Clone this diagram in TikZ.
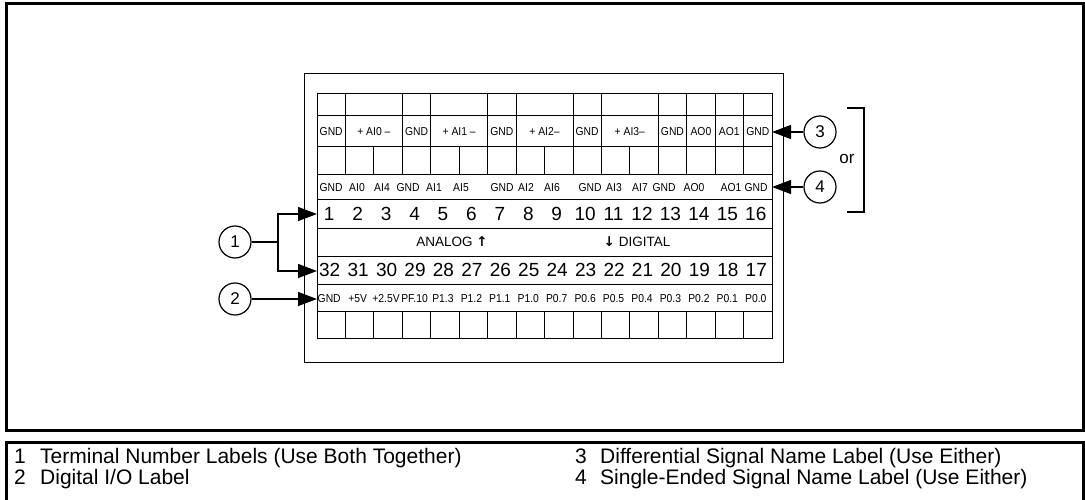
\documentclass[tikz,border=0pt]{standalone}
\usepackage{fontspec}
\setmainfont{Liberation Sans}
\newfontfamily\narrowfont[FakeStretch=0.9]{Liberation Sans}
\newfontfamily\arrowfont{DejaVu Sans}
\usetikzlibrary{arrows.meta}

\tikzset{
  callout/.style={draw, circle, line width=1.2pt, minimum size=32pt, inner sep=0pt,
    font=\fontsize{17}{17}\selectfont},
  pointer/.style={line width=1.2pt, -{Triangle[length=19pt,width=14pt]}},
  small/.style={inner sep=0pt, text height=8.2pt, text depth=0pt,
    font=\narrowfont\fontsize{11.5}{11.5}\selectfont},
  big/.style={inner sep=0pt, text height=13.6pt, text depth=0pt,
    font=\fontsize{19}{19}\selectfont},
  legend/.style={anchor=base west, inner sep=0pt, font=\fontsize{21}{21}\selectfont},
}

\begin{document}
\begin{tikzpicture}[x=1pt,y=-1pt]
\useasboundingbox (0,0) rectangle (1085,500);
\draw[line width=3pt] (6,4) rectangle (1083,430);
\draw[line width=3pt] (6,503) -- (6,442) -- (1083,442) -- (1083,503);
\draw[line width=0.9pt] (304,73) rectangle (783,362);

% label strip
\def\w{28.4375}
\begin{scope}[line width=0.8pt]
  \draw (317,93) rectangle (772,338);
  \foreach \y in {115,146,174,199,228,256,284,311} \draw (317,\y) -- (772,\y);
  \foreach \k in {1,3,4,6,7,9,10,12,13,14,15} \draw (317+\k*\w,93) -- (317+\k*\w,146);
  \foreach \k in {1,...,15} {
    \draw (317+\k*\w,146) -- (317+\k*\w,174);
    \draw (317+\k*\w,311) -- (317+\k*\w,338);
  }
\end{scope}

% differential names
\foreach \c in {1,4,7,10,13,16} \node[small] (dg\c) at (317+\c*\w-\w/2,131) {GND};
\foreach \c/\t in {2/+ AI0 –, 5/+ AI1 –, 8/+ AI2–, 11/+ AI3–}
  \node[small] (da\c) at (317+\c*\w,131) {\t};
\node[small] (dao0) at (317+13.5*\w,131) {AO0};
\node[small] (dao1) at (317+14.5*\w,131) {AO1};

% single-ended names
\foreach \x/\t [count=\i] in {331/GND,357/AI0,382/AI4,408/GND,434/AI1,461/AI5,502/GND,526/AI2,
  552/AI6,590/GND,614/AI3,640/AI7,664/GND,694/AO0,731/AO1,756/GND}
  \node[small] (se\i) at (\x,187) {\t};

% terminal numbers
\foreach \n in {1,...,16} \node[big] (tn\n) at (317+\n*\w-\w/2-2,214) {\n};
\foreach \n in {17,...,32} \node[big] (tn\n) at (317+33*\w-\n*\w-\w/2-1.5,270) {\n};
\node[inner sep=0pt, font=\fontsize{13.5}{13.5}\selectfont] (analog) at (452,242)
  {ANALOG {\arrowfont\bfseries ↑}};
\node[inner sep=0pt, font=\fontsize{13.5}{13.5}\selectfont] (digital) at (637,242)
  {{\arrowfont\bfseries ↓} DIGITAL};

% digital I/O
\foreach \t [count=\i] in {GND,+5V,+2.5V,PF.10,P1.3,P1.2,P1.1,P1.0,P0.7,P0.6,P0.5,P0.4,P0.3,P0.2,P0.1,P0.0}
  \node[small] (io\i) at (317+\i*\w-\w/2-2,298) {\t};

% callouts
\node[callout] (c1) at (235,242) {1};
\node[callout] (c2) at (235,299) {2};
\node[callout] (c3) at (820,132) {3};
\node[callout] (c4) at (820,187) {4};
\coordinate (j1) at (278,242);
\coordinate (a1) at (317,214);
\coordinate (a32) at (317,271);
\coordinate (a2) at (317,299);
\coordinate (a3) at (772,132);
\coordinate (a4) at (772,187);
\draw[line width=1.2pt] (c1) -- (j1);
\draw[pointer] (j1) |- (a1);
\draw[pointer] (j1) |- (a32);
\draw[pointer] (c2) -- (a2);
\draw[pointer] (c3) -- (a3);
\draw[pointer] (c4) -- (a4);
\draw[line width=1.2pt] (847,108) -| (864,212) -- (847,212);
\node[inner sep=0pt, font=\fontsize{17}{17}\selectfont] (or) at (847,159) {or};

% legend
\node[legend] (k1) at (14,463) {1};
\node[legend] (l1) at (40,463) {Terminal Number Labels (Use Both Together)};
\node[legend] (k2) at (14,484) {2};
\node[legend] (l2) at (40,484) {Digital I/O Label};
\node[legend] (k3) at (575,463) {3};
\node[legend] (l3) at (600,463) {Differential Signal Name Label (Use Either)};
\node[legend] (k4) at (575,484) {4};
\node[legend] (l4) at (600,484) {Single-Ended Signal Name Label (Use Either)};
\end{tikzpicture}
\end{document}
